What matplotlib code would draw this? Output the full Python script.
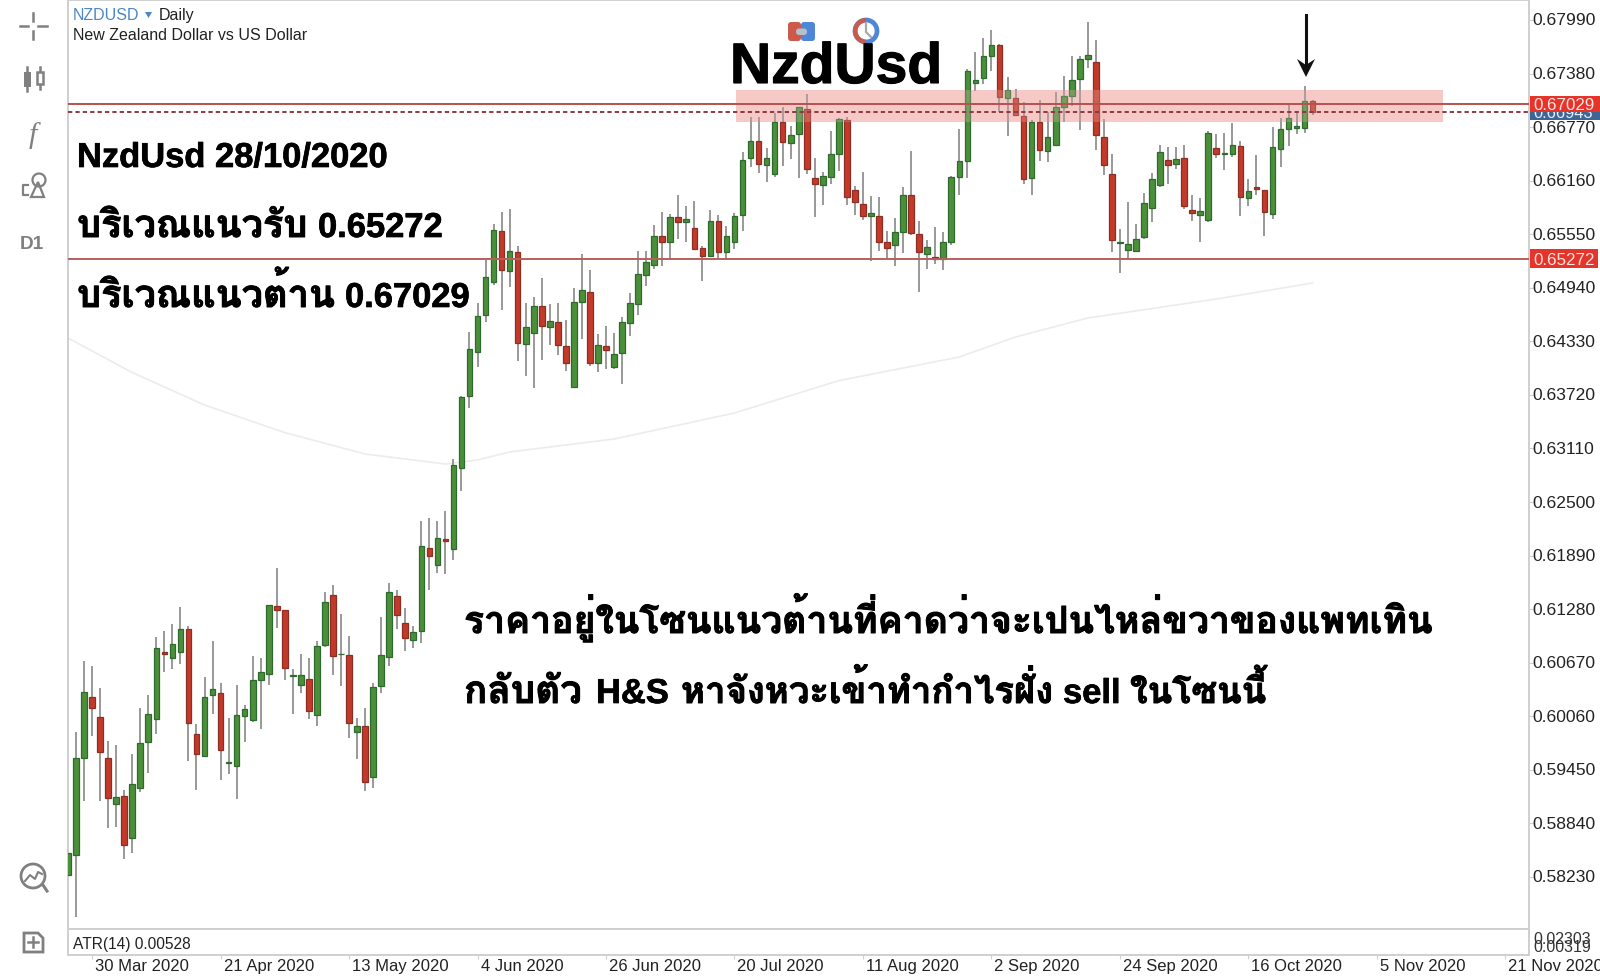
import matplotlib
matplotlib.use("Agg")
import matplotlib.pyplot as plt
from matplotlib import font_manager as fm
from matplotlib import patheffects as pe
from matplotlib.ft2font import FT2Font
from matplotlib.patches import Rectangle, Circle, Polygon, FancyBboxPatch, Wedge
from matplotlib.transforms import ScaledTranslation

opens = [.58249,.58480,.59589,.60284,.60052,.59581,.59057,.59152,.58678,.59247,.59771,.60025,.60792,.60720,.60796,.61050,.59862,.59612,.60303,.60325,
 .59532,.59490,.60067,.60014,.60470,.60538,.61320,.61267,.60523,.60413,.60489,.60075,.60868,.61438,.60766,.60754,.59885,.59946,.59365,.60401,
 .60732,.61426,.61126,.60933,.61028,.61973,.61779,.62079,.61962,.62891,.63704,.64205,.64627,.65010,.65587,.65132,.65348,.64300,.64422,.64729,
 .64490,.64555,.64274,.63807,.64782,.64896,.64088,.64278,.64042,.64194,.64536,.64760,.65086,.65196,.65526,.65462,.65743,.65690,.65621,.65390,
 .65306,.65697,.65344,.65462,.65765,.66414,.66612,.66334,.66240,.66824,.66589,.66687,.66980,.66194,.66107,.66205,.66467,.66847,.66050,.65894,
 .65761,.65757,.65461,.65431,.65575,.65993,.65552,.65321,.65291,.65264,.65465,.66205,.66384,.67276,.67329,.67577,.67702,.67105,.67097,.66892,
 .66186,.66825,.66498,.66570,.66996,.67128,.67314,.67550,.67512,.66658,.66240,.65454,.65367,.65356,.65523,.65853,.66115,.66392,.66346,.66415,
 .65826,.65766,.65713,.66529,.66460,.66468,.66551,.65963,.66085,.66050,.65781,.66521,.66745,.66756,.66756,.67064]
highs = [.58499,.59885,.60694,.60633,.60378,.59779,.59729,.59221,.59631,.60151,.60306,.60959,.61031,.61107,.61309,.61088,.59976,.60511,.60914,.60443,
 .60037,.60413,.60189,.60747,.60728,.61327,.61753,.61267,.60595,.60773,.60728,.60921,.61479,.61551,.61229,.60974,.60037,.60158,.60435,.61191,
 .61582,.61495,.61290,.61085,.62280,.62318,.62280,.62394,.62987,.63708,.64433,.64767,.65268,.65663,.65800,.65834,.65416,.64771,.64836,.65056,
 .64752,.64771,.64574,.64934,.65325,.65139,.64418,.64502,.64426,.64612,.64881,.65359,.65359,.65652,.65800,.65781,.65997,.65876,.65925,.65420,
 .65830,.65773,.65644,.65788,.66490,.66881,.66889,.66528,.66927,.67003,.66782,.66995,.67151,.66414,.66255,.66722,.66870,.66889,.66103,.66259,
 .65989,.65974,.65583,.65731,.66084,.66501,.65697,.65480,.65636,.65571,.66213,.66744,.67428,.67629,.67782,.67880,.67717,.67337,.67200,.67059,
 .66851,.67079,.66946,.67174,.67356,.67580,.67580,.67964,.67766,.66863,.66464,.65606,.65914,.65667,.66020,.66248,.66563,.66544,.66544,.66570,
 .65997,.65959,.66722,.66692,.66703,.66813,.66616,.66183,.66457,.66050,.66768,.66870,.67037,.66954,.67235,.67079]
lows = [.58249,.57778,.59099,.59839,.59099,.58792,.58803,.58431,.58499,.59202,.59411,.59858,.60568,.60599,.60652,.59555,.59221,.59593,.60090,.59338,
 .59403,.59114,.59764,.59991,.59919,.60420,.61069,.60473,.60090,.60322,.60033,.59953,.60845,.60534,.60409,.59809,.59570,.59213,.59240,.60325,
 .60629,.61058,.60807,.60834,.60899,.61495,.61696,.61684,.61840,.62629,.63575,.64035,.64551,.64972,.64691,.64949,.64107,.63940,.63803,.64118,
 .64289,.64179,.63997,.63807,.64361,.64054,.63982,.64016,.64012,.63849,.64395,.64634,.64961,.65151,.65189,.65261,.65500,.65462,.65371,.65022,
 .65295,.65272,.65257,.65382,.65590,.66319,.66251,.66148,.66198,.66331,.66403,.66194,.66232,.65750,.65887,.66122,.66274,.65887,.65773,.65712,
 .65241,.65359,.65264,.65192,.65336,.65537,.64888,.65158,.65215,.65146,.65427,.66000,.66194,.67181,.67261,.67413,.66942,.66672,.66896,.66122,
 .66000,.66381,.66377,.66570,.66832,.67015,.66741,.67440,.66513,.66221,.65352,.65113,.65261,.65352,.65492,.65686,.66085,.66126,.66290,.65834,
 .65701,.65458,.65686,.66415,.66282,.66434,.65758,.65868,.66001,.65527,.65724,.66312,.66559,.66692,.66699,.66912]
closes = [.58499,.59581,.60333,.60151,.59650,.59126,.59137,.58594,.59285,.59752,.60082,.60834,.60769,.60880,.61050,.59984,.59627,.60280,.60371,.59680,
 .59540,.60071,.60143,.60470,.60561,.61327,.61274,.60606,.60527,.60534,.60120,.60861,.61358,.60747,.60769,.59984,.59953,.59316,.60390,.60762,
 .61472,.61210,.60948,.61020,.61996,.61882,.62087,.62056,.62922,.63693,.64240,.64623,.65067,.65595,.65139,.65356,.64308,.64490,.64729,.64509,
 .64558,.64285,.64088,.64782,.64912,.64088,.64285,.64232,.64183,.64547,.64763,.65094,.65230,.65530,.65462,.65743,.65690,.65720,.65382,.65306,
 .65697,.65348,.65526,.65758,.66391,.66612,.66346,.66414,.66824,.66596,.66680,.66995,.66293,.66122,.66209,.66460,.66858,.65970,.65917,.65757,
 .65788,.65465,.65397,.65571,.65993,.65568,.65344,.65401,.65264,.65465,.66202,.66384,.67405,.67312,.67577,.67702,.67116,.67192,.66911,.66175,
 .66824,.66506,.66654,.66996,.67121,.67307,.67542,.67588,.66680,.66343,.65485,.65458,.65435,.65500,.65902,.66176,.66483,.66335,.66403,.65872,
 .65796,.65811,.66699,.66460,.66479,.66563,.65971,.66039,.66062,.65800,.66540,.66745,.66870,.66779,.67064,.66942]

ma_index = [0, 8, 17, 27, 37, 47, 51, 55, 68, 83, 96, 111, 118, 127, 143, 155]
ma_value = [.64368,.63975,.63605,.63291,.63047,.62933,.62979,.63070,.63218,.63514,.63883,.64152,.64380,.64596,.64812,.64995]

support = 0.65272
resistance = 0.67029
last_close = 0.66943
zone_low, zone_high = 0.66828, 0.67193

price_ticks = [0.67990,0.67380,0.66770,0.66160,0.65550,0.64940,0.64330,0.63720,0.63110,0.62500,0.61890,0.61280,0.60670,0.60060,0.59450,0.58840,0.58230]
date_ticks = [3,19,35,51,67,83,99,115,131,147,163,179]
date_labels = ["30 Mar 2020","21 Apr 2020","13 May 2020","4 Jun 2020","26 Jun 2020","20 Jul 2020","11 Aug 2020","2 Sep 2020","24 Sep 2020","16 Oct 2020","5 Nov 2020","21 Nov 2020"]
atr_labels = [("0.02303", 939), ("0.00319", 947)]

W, H = 1600, 978
def thai_fonts():
    seen = []
    for f in fm.fontManager.ttflist:
        try:
            if 0x0E1A in FT2Font(f.fname).get_charmap() and f.name not in seen:
                seen.append(f.name)
        except Exception:
            pass
    return seen
THAI = thai_fonts()
FAM = ['Liberation Sans'] + THAI + ['DejaVu Sans']
plt.rcParams['font.family'] = FAM

fig = plt.figure(figsize=(W/100, H/100), dpi=100, facecolor='white')
L, R, T, B1, B2 = 68, 1529, 1, 930, 956
FR = '#cfcfcf'
ax = fig.add_axes([L/W, 1-B1/H, (R-L)/W, (B1-T)/H])
bw = 8.03
ax.set_xlim(0, (R-L)/bw)
per_px = 0.0061/53.56
Y0 = 21
ax.set_ylim(0.6799-(B1-Y0)*per_px, 0.6799+(Y0-T)*per_px)

G, GE, RD, RE = '#4b8f3a', '#2e6a2e', '#c43a2a', '#8c2e24'
xs = list(range(len(opens)))
ax.vlines(xs, lows, highs, color='#7d7d7d', lw=1.1, zorder=2)
for x, o, c in zip(xs, opens, closes):
    up = c >= o
    ax.bar(x, max(abs(c-o), 0.00002), bottom=min(o, c), width=0.70,
           color=G if up else RD, edgecolor=GE if up else RE, linewidth=0.9, zorder=3)
ax.plot(ma_index, ma_value, color='#ececec', lw=1.2, zorder=1.5)

ax.axhline(support, color='#b8605c', lw=1.4, zorder=5)
ax.axhline(resistance, color='#b8504c', lw=1.4, zorder=5)
ax.axhline(last_close, color='#8c3a40', lw=1.4, ls=(0, (2.2, 1.6)), zorder=5)
zx0, zx1 = (736-L)/(R-L), (1443-L)/(R-L)
ax.axhspan(zone_low, zone_high, xmin=zx0, xmax=zx1, color='#f6c8c6', lw=0, zorder=1)
ax.axhspan(zone_low, zone_high, xmin=zx0, xmax=zx1, color='#f6c8c6', alpha=0.25, lw=0, zorder=4)

ax.yaxis.tick_right()
ax.set_yticks(price_ticks)
ax.set_yticklabels([f"{p:.5f}" for p in price_ticks], fontsize=12.6, color='#222222', family=FAM)
ax.tick_params(axis='y', length=3, width=0.8, color=FR, pad=-0.5)
for lab in ax.get_yticklabels():
    lab.set_transform(lab.get_transform() + ScaledTranslation(0, 1.5/100, fig.dpi_scale_trans))
ax.set_xticks([])
for s in ax.spines.values():
    s.set_color(FR); s.set_linewidth(1.4)

ax2 = fig.add_axes([L/W, 1-B2/H, (R-L)/W, (B2-B1)/H])
ax2.set_xlim(ax.get_xlim()); ax2.set_ylim(0, 1); ax2.set_yticks([])
ax2.set_xticks(date_ticks)
ax2.set_xticklabels(date_labels, fontsize=12, color='#222222', ha='left', family=FAM)
ax2.tick_params(axis='x', length=3, width=0.8, color=FR, pad=-0.5)
for lab in ax2.get_xticklabels():
    lab.set_transform(lab.get_transform() + ScaledTranslation(3/100, 0, fig.dpi_scale_trans))
    lab.set_clip_on(False)
for s in ax2.spines.values():
    s.set_color(FR); s.set_linewidth(1.4)

ov = fig.add_axes([0, 0, 1, 1], zorder=10)
ov.set_xlim(0, W); ov.set_ylim(H, 0); ov.axis('off'); ov.patch.set_alpha(0)

def tx(x, y, s, size_px, **kw):
    kw.setdefault('family', FAM)
    kw.setdefault('va', 'baseline')
    return ov.text(x, y, s, fontsize=size_px*0.72, **kw)

def heavy(x, y, s, size_px, stroke=0.7):
    t = tx(x, y, s, size_px, weight='bold', color='black')
    t.set_path_effects([pe.withStroke(linewidth=stroke, foreground='black')])
    return t

# header
tx(73, 20, "NZDUSD", 16, color='#4a86c8')
ov.add_patch(Polygon([[145, 13], [152, 13], [148.5, 19]], color='#4a86c8', lw=0))
tx(159, 20, "Daily", 16, color='#222222')
tx(73, 40, "New Zealand Dollar vs US Dollar", 16, color='#222222')
tx(73, 949, "ATR(14) 0.00528", 15.5, color='#222222')
for s, y in atr_labels:
    tx(1533, y+5, s, 16, color='#333333')

# big labels
heavy(730, 84, "NzdUsd", 57, 0.8)
heavy(77, 168, "NzdUsd 28/10/2020", 34.5, 0.5)
heavy(77, 238, "บริเวณแนวรับ", 38)
heavy(318, 238, "0.65272", 34.5, 0.5)
heavy(77, 308, "บริเวณแนวต้าน", 38)
heavy(345, 308, "0.67029", 34.5, 0.5)
heavy(464, 634, "ราคาอยู่ในโซนแนวต้านที่คาดว่าจะเปนไหล่ขวาของแพทเทิน", 37.4)
heavy(464, 704, "กลับตัว", 38.5)
heavy(596, 704, "H&S", 34.5, 0.5)
heavy(681, 704, "หาจังหวะเข้าทำกำไรฝั่ง", 36.5)
heavy(1063, 704, "sell", 34.5, 0.5)
heavy(1130, 704, "ในโซนนี้", 36)

# price flags
ov.add_patch(Rectangle((1530, 104), 70, 17, color='#3f6597', lw=0, zorder=3))
tx(1533, 118, f"{last_close:.5f}", 16.5, color='#e8eef6', zorder=3.1)
ov.add_patch(Rectangle((1530, 97), 70, 16, color='#e5352b', lw=0, zorder=4))
tx(1533, 110.5, f"{resistance:.5f}", 17, color='#fbe3e0', zorder=4.1)
ov.add_patch(Rectangle((1530, 250), 68, 19, color='#e5352b', lw=0, zorder=4))
tx(1533, 265, f"{support:.5f}", 17, color='#fbe3e0', zorder=4.1)

# arrow
ov.plot([1306, 1306], [16, 66], color='#111111', lw=2.2)
ov.add_patch(Polygon([[1297, 60], [1306, 66], [1315, 60], [1306, 78]], color='#111111', lw=0))

# small icons above the title
ov.add_patch(FancyBboxPatch((788, 23), 13, 19, boxstyle='round,pad=0,rounding_size=3', color='#cc5a4a', lw=0))
ov.add_patch(FancyBboxPatch((801, 23), 14, 19, boxstyle='round,pad=0,rounding_size=3', color='#4f86d8', lw=0))
ov.add_patch(FancyBboxPatch((796, 29.5), 11, 6.5, boxstyle='round,pad=0,rounding_size=3', color='#b9bfca', lw=0))
ov.add_patch(Circle((866, 32), 11, fill=False, ec='#4f86d8', lw=3.4))
ov.add_patch(Wedge((866, 32), 13, 90, 270, width=4.5, color='#cc5a4a', lw=0))
ov.plot([866, 866, 871], [25, 33, 38], color='#a8a8a8', lw=1.6)

# toolbar icons
IC = '#808080'
ov.plot([20, 28], [27, 27], color=IC, lw=1.8); ov.plot([38, 47], [27, 27], color=IC, lw=1.8)
ov.plot([33, 33], [14, 22], color=IC, lw=1.8); ov.plot([33, 33], [32, 40], color=IC, lw=1.8)
ov.plot([27, 27], [68, 92], color=IC, lw=1.8)
ov.add_patch(Rectangle((24, 73), 6.5, 15, color=IC, lw=0))
ov.plot([40, 40], [68, 90], color=IC, lw=1.8)
ov.add_patch(Rectangle((36.5, 73), 6.5, 12, fc='white', ec=IC, lw=1.8, zorder=3))
tx(33, 143, "f", 30, family=['Liberation Serif'], style='italic', color=IC, ha='center')
ov.add_patch(Circle((39, 181), 6.5, fill=False, ec=IC, lw=1.6))
ov.add_patch(Polygon([[38, 183], [44, 198], [31, 198]], fill=False, ec=IC, lw=1.6))
ov.plot([28, 23, 23, 28], [186, 186, 196, 196], color=IC, lw=1.6)
tx(32, 249, "D1", 19, weight='bold', color=IC, ha='center')
ov.add_patch(Circle((33, 877), 12, fill=False, ec=IC, lw=2))
ov.plot([43, 47], [886, 892], color=IC, lw=2.2)
ov.plot([25, 30, 35, 38, 42], [882, 876, 880, 873, 875], color=IC, lw=1.5)
ov.add_patch(Polygon([[24, 934], [38, 934], [43, 939], [43, 953], [24, 953]], fill=False, ec=IC, lw=2))
ov.plot([28, 38], [943, 943], color=IC, lw=1.8); ov.plot([33, 33], [938, 948], color=IC, lw=1.8)

fig.savefig("out.png", dpi=100, facecolor='white')
